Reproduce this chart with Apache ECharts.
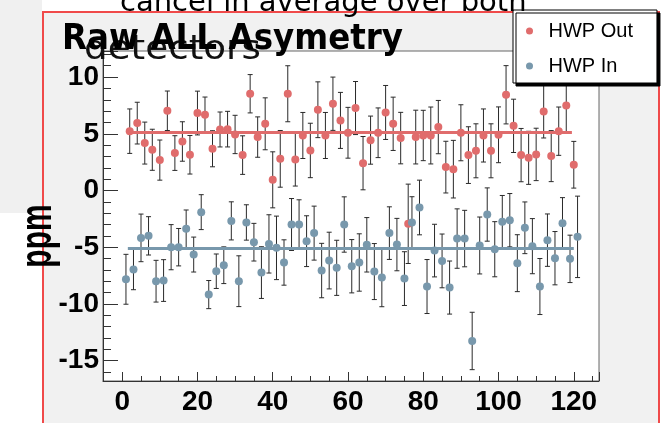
<!DOCTYPE html>
<html>
<head>
<meta charset="utf-8">
<script src="https://cdn.jsdelivr.net/npm/echarts@6/dist/echarts.min.js"></script>
<style>
  html, body { margin: 0; padding: 0; background: #fff; }
  #wrap { position: relative; width: 662px; height: 423px; overflow: hidden; }
  #side { position: absolute; left: 0; top: 0; width: 42px; height: 213px; background: #f0f0f0; }
  #pad { position: absolute; left: 42px; top: 11px; width: 614px; height: 430px; border: 2px solid #f04a4a; background: #f1f1f1; }
  #chart { position: absolute; left: 0; top: 0; width: 662px; height: 423px; }
</style>
</head>
<body>
<div id="wrap">
  <div id="side"></div>
  <div id="pad"></div>
  <div id="chart"></div>
</div>
<script>
// HWP Out runs (even) and HWP In runs (odd), asymmetry in ppm with stat errors
let outX = [2, 4, 6, 8, 10, 12, 14, 16, 18, 20, 22, 24, 26, 28, 30, 32, 34, 36, 38, 40,
  42, 44, 46, 48, 50, 52, 54, 56, 58, 60, 62, 64, 66, 68, 70, 72, 74, 76, 78, 80,
  82, 84, 86, 88, 90, 92, 94, 96, 98, 100, 102, 104, 106, 108, 110, 112, 114, 116, 118, 120];
let outY = [5.23, 5.94, 4.18, 3.59, 2.68, 7.03, 3.30, 4.32, 3.15, 6.83, 6.68, 3.68, 5.38, 5.41, 4.94, 3.12, 8.53, 4.71, 5.88, 0.94,
  2.79, 8.53, 2.74, 4.85, 3.53, 7.12, 4.85, 7.65, 6.18, 5.09, 7.27, 2.41, 4.44, 5.09, 6.88, 5.88, 4.62, -2.94, 4.71, 4.85,
  4.85, 5.59, 2.06, 1.88, 5.09, 3.12, 3.50, 4.85, 3.50, 4.91, 8.44, 5.70, 3.12, 2.88, 3.18, 6.97, 3.03, 5.23, 7.50, 2.27];
let outErr = [1.96, 1.84, 1.85, 1.81, 1.77, 1.74, 1.53, 1.74, 1.70, 1.93, 1.56, 1.59, 1.54, 1.57, 1.69, 1.70, 1.69, 1.78, 2.29, 2.47,
  2.50, 2.47, 2.35, 2.03, 2.40, 2.46, 2.03, 2.35, 2.47, 2.24, 2.34, 2.35, 2.12, 2.19, 2.38, 2.35, 2.27, 3.50, 2.37, 2.22,
  2.51, 2.35, 2.28, 2.54, 2.47, 2.50, 2.38, 2.34, 2.38, 2.46, 2.57, 2.35, 2.35, 2.34, 2.31, 2.34, 2.25, 2.13, 2.47, 2.06];

let inX = [1, 3, 5, 7, 9, 11, 13, 15, 17, 19, 21, 23, 25, 27, 29, 31, 33, 35, 37, 39, 41,
  43, 45, 47, 49, 51, 53, 55, 57, 59, 61, 63, 65, 67, 69, 71, 73, 75, 77, 79, 81,
  83, 85, 87, 89, 91, 93, 95, 97, 99, 101, 103, 105, 107, 109, 111, 113, 115, 117, 119, 121];
let inY = [-7.83, -6.97, -4.18, -4.00, -8.00, -7.94, -5.00, -5.00, -3.38, -5.65, -1.91, -9.18, -7.12, -6.59, -2.68, -8.00, -2.82, -4.56, -7.24, -4.71, -5.06,
  -6.35, -3.00, -3.00, -4.47, -3.76, -7.06, -6.18, -6.82, -3.00, -6.68, -6.35, -4.79, -7.15, -7.68, -3.76, -4.77, -7.77, -2.82, -1.50, -8.47,
  -5.30, -6.21, -8.56, -4.24, -4.24, -13.27, -4.85, -2.12, -5.18, -2.76, -2.62, -6.41, -3.29, -4.91, -8.47, -4.38, -5.97, -2.88, -6.03, -4.09];
let inErr = [2.20, 1.78, 2.10, 1.69, 1.84, 1.84, 1.99, 1.65, 1.66, 1.54, 1.54, 1.24, 1.52, 1.62, 1.68, 2.24, 1.56, 1.66, 2.28, 2.57, 2.80,
  2.00, 2.29, 2.18, 2.24, 2.38, 2.40, 2.50, 2.43, 2.44, 2.35, 2.53, 2.40, 2.47, 2.57, 2.32, 2.31, 2.37, 2.27, 2.41, 2.38,
  2.32, 2.37, 2.34, 2.62, 2.49, 2.53, 2.51, 2.35, 2.43, 2.32, 2.35, 2.51, 2.28, 2.43, 2.47, 2.31, 2.35, 2.25, 2.09, 3.59];

// constant fits
let outFit = 5.12;
let inFit = -5.11;
let fitFrom = 1.5;
let fitTo = 119.5;

let outColor = '#e06c6c';
let inColor = '#7898ac';

let myChart = echarts.init(document.getElementById('chart'));

let errorBar = function (params, api) {
  let x = api.value(0), y = api.value(1), e = api.value(2);
  let hi = api.coord([x, y + e]);
  let lo = api.coord([x, y - e]);
  let style = {stroke: '#2a2a2a', lineWidth: 1};
  return {
    type: 'group',
    children: [
      {type: 'line', shape: {x1: hi[0], y1: hi[1], x2: lo[0], y2: lo[1]}, style: style},
      {type: 'line', shape: {x1: hi[0] - 2.5, y1: hi[1], x2: hi[0] + 2.5, y2: hi[1]}, style: style},
      {type: 'line', shape: {x1: lo[0] - 2.5, y1: lo[1], x2: lo[0] + 2.5, y2: lo[1]}, style: style}
    ]
  };
};

let outData = outX.map((x, i) => [x, outY[i], outErr[i]]);
let inData = inX.map((x, i) => [x, inY[i], inErr[i]]);

let labelFont = {fontFamily: 'Liberation Sans', fontWeight: 'bold', fontSize: 28, color: '#000'};

let option = {
  animation: false,
  grid: {
    left: 103, right: 63, top: 51, bottom: 42,
    show: true,
    backgroundColor: '#fff',
    borderColor: '#666',
    borderWidth: 1,
    outerBoundsMode: 'none'
  },
  legend: {
    orient: 'vertical',
    left: 513,
    top: 10,
    padding: [11, 24, 7, 13],
    itemWidth: 28,
    itemHeight: 7,
    itemGap: 15,
    backgroundColor: '#fff',
    borderColor: '#000',
    borderWidth: 1,
    shadowColor: '#000',
    shadowBlur: 0,
    shadowOffsetX: 3,
    shadowOffsetY: 3,
    selectedMode: false,
    textStyle: {fontFamily: 'Liberation Sans', fontSize: 20, color: '#000'},
    data: [{name: 'HWP Out', icon: 'circle'}, {name: 'HWP In', icon: 'circle'}]
  },
  xAxis: {
    type: 'value',
    min: -5.1,
    max: 126.7,
    splitNumber: 7,
    minInterval: 20,
    maxInterval: 20,
    axisLine: {show: true, onZero: false, lineStyle: {color: '#333', width: 1}},
    axisTick: {show: true, inside: true, length: 9, lineStyle: {color: '#333'}},
    minorTick: {show: true, splitNumber: 4, length: 5, lineStyle: {color: '#333'}},
    splitLine: {show: false},
    axisLabel: Object.assign({margin: 7, showMinLabel: false, showMaxLabel: false}, labelFont)
  },
  yAxis: {
    type: 'value',
    min: -16.8,
    max: 12.3,
    splitNumber: 6,
    minInterval: 5,
    maxInterval: 5,
    axisLine: {show: true, onZero: false, lineStyle: {color: '#333', width: 1}},
    axisTick: {show: true, inside: true, length: 15, lineStyle: {color: '#333'}},
    minorTick: {show: true, splitNumber: 5, length: 8, lineStyle: {color: '#333'}},
    splitLine: {show: false},
    axisLabel: Object.assign({margin: 4, showMinLabel: false, showMaxLabel: false}, labelFont)
  },
  graphic: [
    {type: 'text', x: 120, y: 3, z: 100,
      style: {text: 'cancel in average over both', font: '29px "DejaVu Sans"', fill: '#000', verticalAlign: 'middle'}},
    {type: 'text', x: 84, y: 50, z: 100, scaleX: 1.13,
      style: {text: 'detectors', font: '33px "DejaVu Sans"', fill: '#111', verticalAlign: 'middle'}},
    {type: 'text', x: 62, y: 40, z: 101, scaleX: 0.93,
      style: {text: 'Raw ALL Asymetry', font: 'bold 35px "DejaVu Sans"', fill: '#000', verticalAlign: 'middle'}},
    {type: 'text', x: 39, y: 236, z: 100, rotation: Math.PI / 2, scaleY: 1.45,
      style: {text: 'ppm', font: 'bold 30px "Liberation Sans"', fill: '#000', align: 'center', verticalAlign: 'middle'}}
  ],
  series: [
    {name: 'out err', type: 'custom', renderItem: errorBar, data: outData, encode: {x: 0, y: 1}, z: 1, silent: true},
    {name: 'in err', type: 'custom', renderItem: errorBar, data: inData, encode: {x: 0, y: 1}, z: 1, silent: true},
    {name: 'out fit', type: 'line', data: [[fitFrom, outFit], [fitTo, outFit]], symbol: 'none', z: 2, silent: true,
      lineStyle: {color: outColor, width: 3}},
    {name: 'in fit', type: 'line', data: [[fitFrom, inFit], [fitTo + 0.5, inFit]], symbol: 'none', z: 2, silent: true,
      lineStyle: {color: inColor, width: 3}},
    {name: 'HWP Out', type: 'scatter', data: outData, symbolSize: 8, z: 3,
      itemStyle: {color: outColor, opacity: 1}},
    {name: 'HWP In', type: 'scatter', data: inData, symbolSize: 8, z: 4,
      itemStyle: {color: inColor, opacity: 1}}
  ]
};
myChart.setOption(option);
</script>
</body>
</html>
